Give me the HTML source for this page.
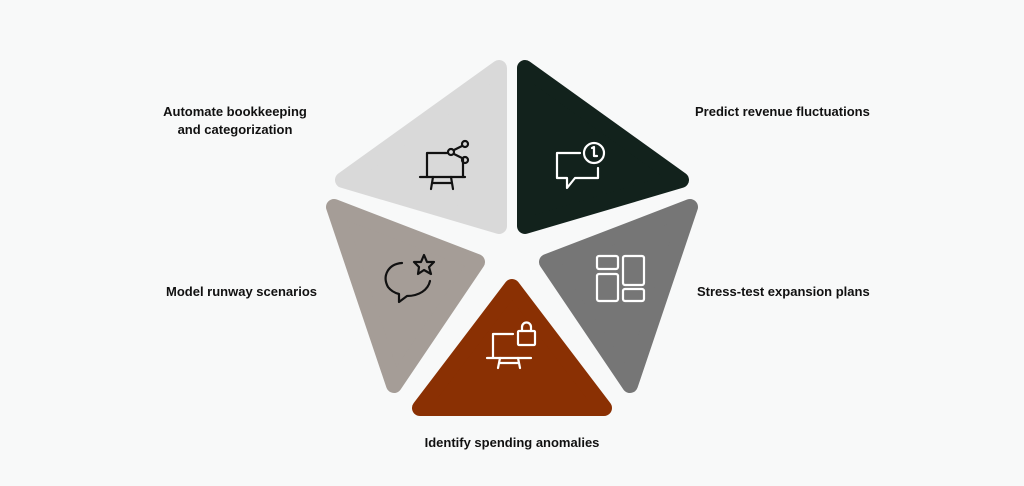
<!DOCTYPE html>
<html><head><style>
html,body{margin:0;padding:0;background:#f8f9f9;}
body{width:1024px;height:486px;position:relative;overflow:hidden;font-family:"Liberation Sans",sans-serif;}
.t{position:absolute;font-size:13px;font-weight:bold;color:#111;line-height:18px;white-space:nowrap;}
</style></head><body>
<svg width="1024" height="486" style="position:absolute;left:0;top:0" stroke-linejoin="round">
<polygon points="343,180 499,68 499,226" fill="#d9d9d9" stroke="#d9d9d9" stroke-width="16"/>
<polygon points="525,68 681,180 525,226" fill="#12221c" stroke="#12221c" stroke-width="16"/>
<polygon points="690,207 630,385 547,262" fill="#767676" stroke="#767676" stroke-width="16"/>
<polygon points="334,207 394,385 477,262" fill="#a59d97" stroke="#a59d97" stroke-width="16"/>
<polygon points="420,408 604,408 512,287" fill="#8a3003" stroke="#8a3003" stroke-width="16"/>
<!-- icon monitor share -->
<g fill="none" stroke="#111" stroke-width="2.2" stroke-linecap="round">
<path d="M447,153 H427 V177"/><path d="M420,177 H465"/><path d="M445,153 V153"/>
<path d="M433,177 L431,189 M451,177 L453,189 M432,183 H452"/><path d="M463,158 V177"/>
<circle cx="465" cy="144" r="3"/><circle cx="451" cy="152" r="3"/><circle cx="465" cy="160" r="3"/>
<path d="M454,150 L462,146 M454,154 L462,158"/>
</g>
<!-- chat clock -->
<g fill="none" stroke="#fff" stroke-width="2.2" stroke-linecap="round" stroke-linejoin="round">
<path d="M580,153 H557 V178 H567 V188 L575,178 H598 V168"/>
<circle cx="594" cy="153" r="10"/><path d="M592,148 L594,147 V156 H597"/>
</g>
<!-- grid -->
<g fill="none" stroke="#fff" stroke-width="2.2">
<rect x="597" y="256" width="21" height="13" rx="2"/><rect x="597" y="274" width="21" height="27" rx="2"/>
<rect x="623" y="256" width="21" height="29" rx="2"/><rect x="623" y="289" width="21" height="12" rx="2"/>
</g>
<!-- chat star -->
<g fill="none" stroke="#111" stroke-width="2.2" stroke-linecap="round" stroke-linejoin="round">
<path d="M402,263 C388,264 382,276 388,287 C391,291 395,293 399,294 L399,302 L407,296 C419,296 428,290 430,281"/>
<path d="M424,255 L427,262 L434,262 L429,267 L431,274 L424,270 L418,274 L419,267 L414,262 L421,262 Z"/>
</g>
<!-- monitor lock -->
<g fill="none" stroke="#fff" stroke-width="2.2" stroke-linecap="round">
<path d="M513,334 H493 V357"/><path d="M487,358 H531"/>
<path d="M500,358 L498,368 M518,358 L520,368 M499,363 H519"/>
<rect x="518" y="331" width="17" height="14" rx="1"/><path d="M522,331 V327 A4,4 0 0 1 531,327 V331"/>
</g>
</svg>
<div class="t" style="left:160px;top:103px;width:150px;text-align:center">Automate bookkeeping<br>and categorization</div>
<div class="t" style="left:695px;top:103px">Predict revenue fluctuations</div>
<div class="t" style="left:166px;top:283px">Model runway scenarios</div>
<div class="t" style="left:697px;top:283px">Stress-test expansion plans</div>
<div class="t" style="left:412px;top:434px;width:200px;text-align:center">Identify spending anomalies</div>
</body></html>
